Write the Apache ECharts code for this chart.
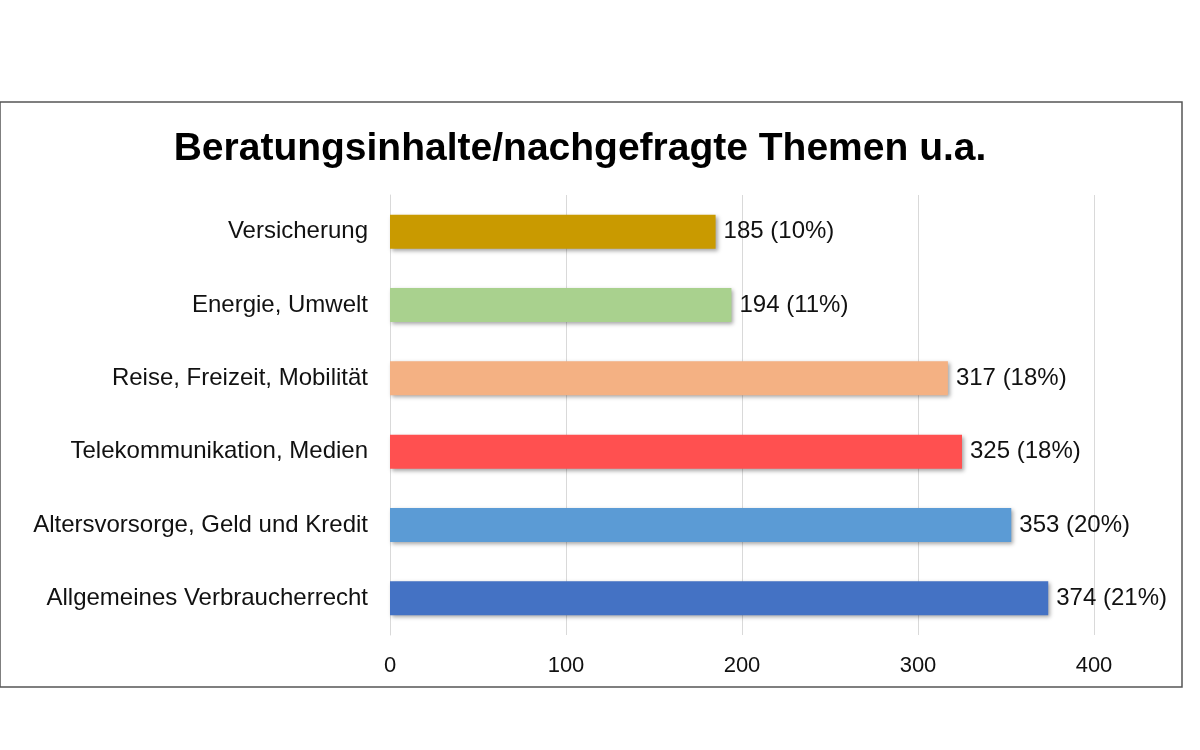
<!DOCTYPE html>
<html><head><meta charset="utf-8">
<script src="https://cdn.jsdelivr.net/npm/echarts@6/dist/echarts.min.js"></script>
<style>html,body{margin:0;padding:0;background:#fff}#c{width:1200px;height:750px}</style>
</head><body><div id="c"></div>
<script>
const categories = ["Allgemeines Verbraucherrecht","Altersvorsorge, Geld und Kredit","Telekommunikation, Medien","Reise, Freizeit, Mobilität","Energie, Umwelt","Versicherung"];
const values = [374,353,325,317,194,185];
const percents = ["21%","20%","18%","18%","11%","10%"];
const colors = ["#4472C4","#5B9BD5","#FF5050","#F4B183","#A9D18E","#C99A00"];
const ticks = [0,100,200,300,400];
const chart = echarts.init(document.getElementById('c'));
const ff = 'Arial, Liberation Sans';
chart.setOption({
  animation:false,
  graphic:[{type:'rect',shape:{x:0,y:102,width:1182,height:585},style:{fill:'none',stroke:'#555',lineWidth:1.5}}],
  title:{text:'Beratungsinhalte/nachgefragte Themen u.a.',left:575,top:125,textAlign:'center',
    textStyle:{fontFamily:ff,fontWeight:'bold',fontSize:39,color:'#000'}},
  grid:{left:390,right:106,top:195,bottom:115},
  xAxis:{type:'value',min:0,max:400,interval:100,
    axisLabel:{fontFamily:ff,fontSize:22,color:'#111',margin:20,formatter:v=>ticks.includes(v)?String(v):''},
    splitLine:{lineStyle:{color:'#d9d9d9'}},axisLine:{show:false},axisTick:{show:false}},
  yAxis:{type:'category',data:categories,
    axisLabel:{fontFamily:ff,fontSize:24,color:'#111',margin:22},
    axisLine:{lineStyle:{color:'#d9d9d9'}},axisTick:{show:false}},
  series:[{type:'bar',barWidth:34,
    data:values.map((v,i)=>({value:v,itemStyle:{color:colors[i]}})),
    itemStyle:{shadowColor:'rgba(0,0,0,0.35)',shadowBlur:4,shadowOffsetX:2,shadowOffsetY:2},
    label:{show:true,position:'right',distance:8,fontFamily:ff,fontSize:24,color:'#111',
      formatter:p=>p.value+' ('+percents[p.dataIndex]+')'}}]
});
</script></body></html>
